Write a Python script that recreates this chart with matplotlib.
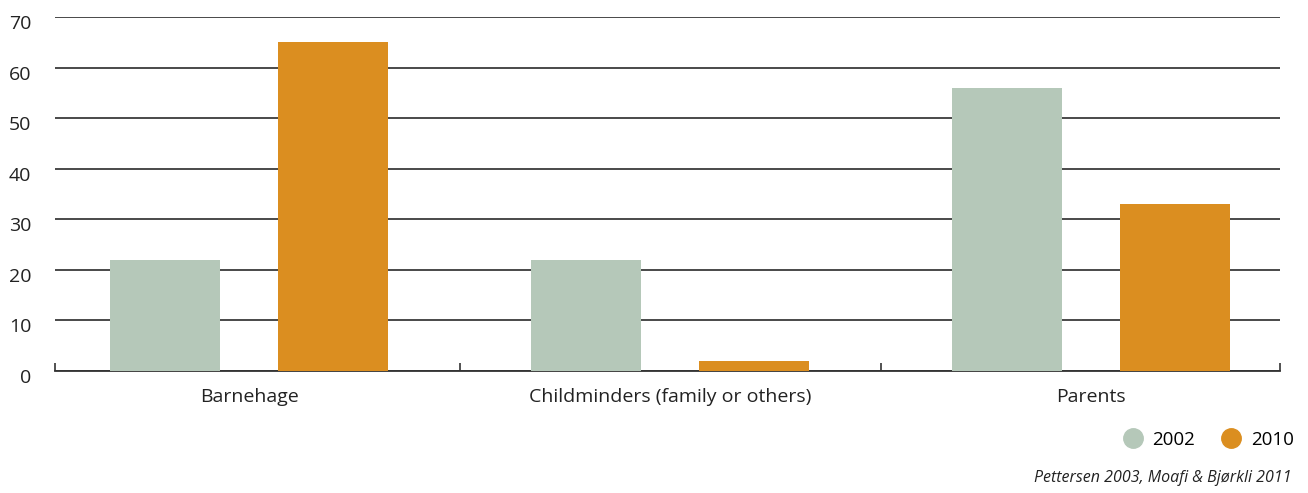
import matplotlib
matplotlib.use('Agg')
import matplotlib.pyplot as plt
import matplotlib.transforms as mtransforms
import numpy as np
from matplotlib.lines import Line2D

plt.rcParams['font.family'] = ['Open Sans', 'DejaVu Sans']

categories = ['Barnehage', 'Childminders (family or others)', 'Parents']
years = ['2002', '2010']
vals_2002 = [22, 22, 56]
vals_2010 = [65, 2, 33]
colors = ['#b5c8b9', '#db8e20']
yticks = [0, 10, 20, 30, 40, 50, 60, 70]
source = 'Pettersen 2003, Moafi & Bjørkli 2011'

fig = plt.figure(figsize=(13.08, 4.93), dpi=100, facecolor='white')
ax = fig.add_axes([55 / 1308, 1 - 371 / 493, (1280 - 55) / 1308, (371 - 17) / 493])

x = np.arange(len(categories))
w = 0.261
off = 0.2
ax.bar(x - off, vals_2002, w, color=colors[0], zorder=3)
ax.bar(x + off, vals_2010, w, color=colors[1], zorder=3)

ax.set_xlim(-0.461, 2.449)
ax.set_ylim(0, 70)
ax.set_yticks(yticks)
ax.set_yticklabels([str(v) for v in yticks], fontsize=14, color='#222222')
ax.tick_params(axis='y', length=0, pad=17)
shift = mtransforms.ScaledTranslation(0, -5 / 100, fig.dpi_scale_trans)
for lbl in ax.get_yticklabels():
    lbl.set_transform(lbl.get_transform() + shift)
ax.yaxis.grid(True, color='#3a3a3a', linewidth=1.3, zorder=1)
ax.set_axisbelow(True)

# separators between groups and at the ends
ax.set_xticks([-0.461, 0.5, 1.5, 2.449])
ax.set_xticklabels([])
ax.tick_params(axis='x', which='major', direction='in', length=6,
               width=1.2, color='#333333')
ax.set_xticks(x, minor=True)
ax.set_xticklabels(categories, minor=True, fontsize=14, color='#222222')
ax.tick_params(axis='x', which='minor', length=0, pad=12)

for s in ['top', 'right', 'left']:
    ax.spines[s].set_visible(False)
ax.spines['bottom'].set_color('#333333')
ax.spines['bottom'].set_linewidth(1.3)

handles = [Line2D([], [], marker='o', linestyle='none', markersize=14,
                  markerfacecolor=c, markeredgecolor=c, label=y)
           for c, y in zip(colors, years)]
fig.legend(handles=handles, loc='center right', bbox_to_anchor=(1301 / 1308, 1 - 440 / 493),
           ncol=2, frameon=False, fontsize=13.5, handletextpad=0.05,
           columnspacing=0.9, borderaxespad=0)

fig.text(1292 / 1308, 1 - 478 / 493, source, ha='right', va='center',
         fontsize=11.5, style='italic', color='#222222')

fig.savefig('out.png', dpi=100, facecolor='white')
